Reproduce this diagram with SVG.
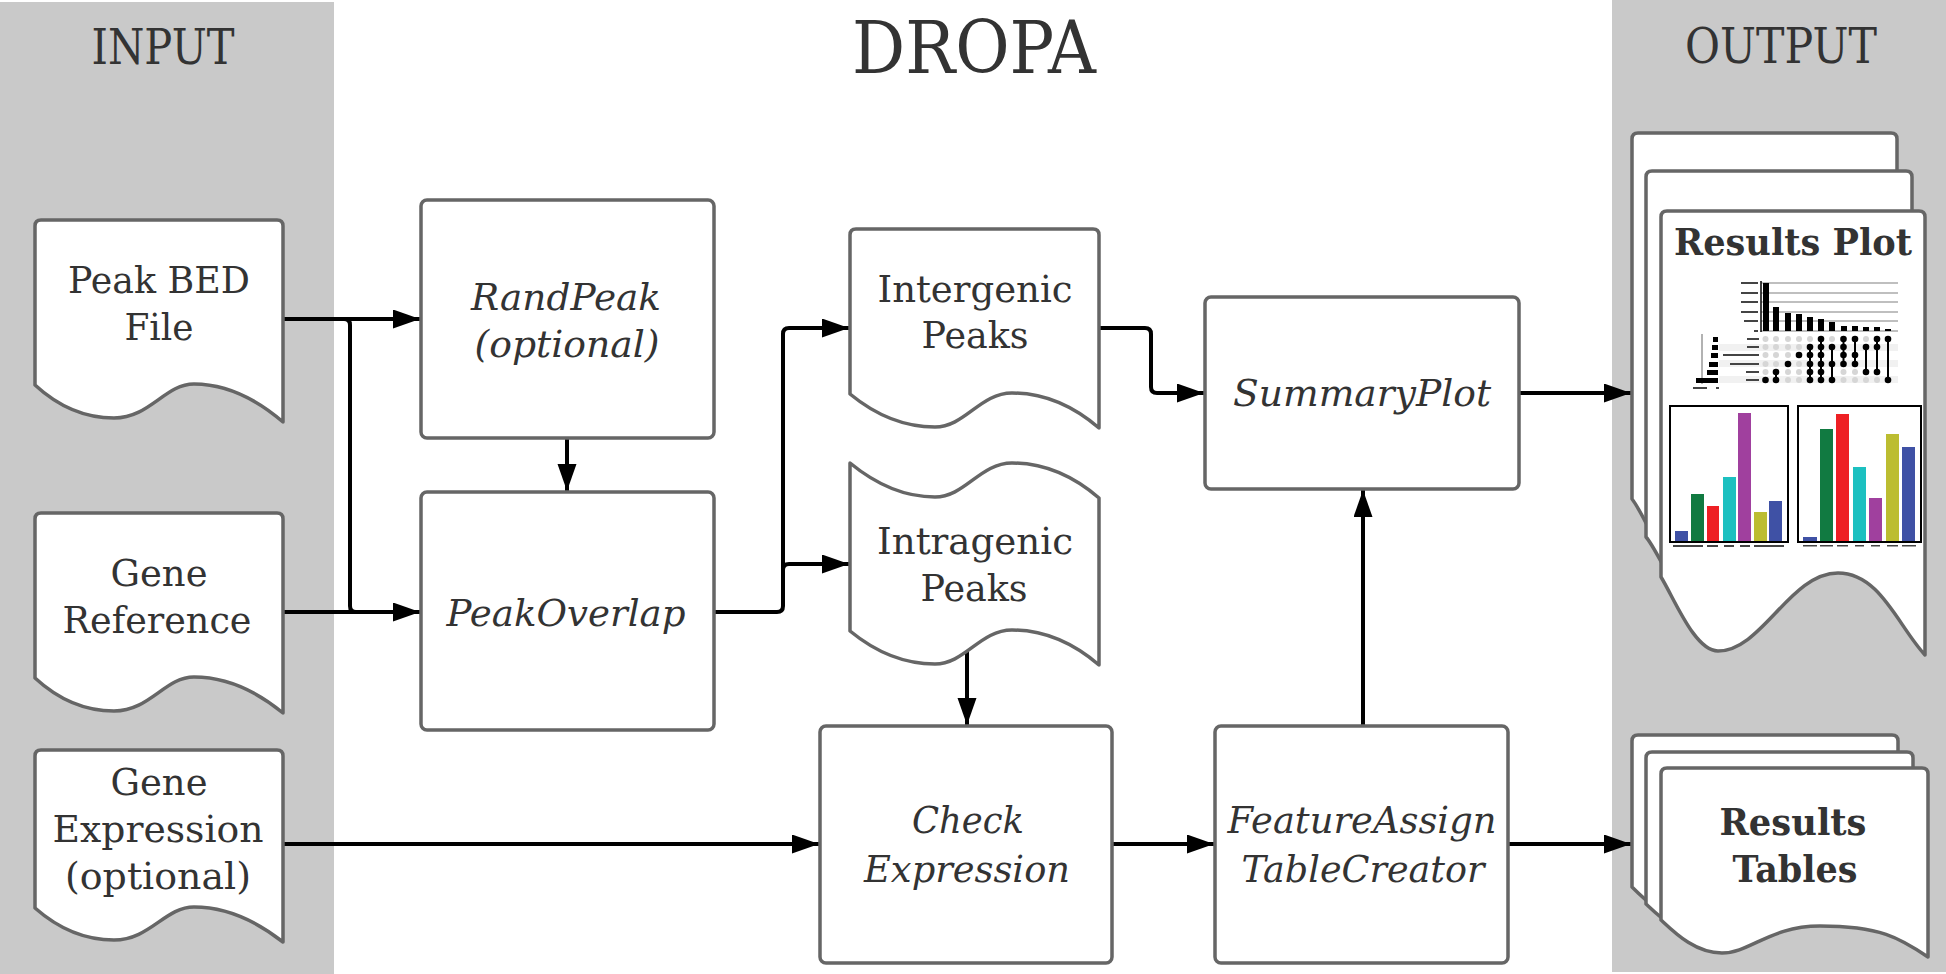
<svg xmlns="http://www.w3.org/2000/svg" width="1946" height="974" viewBox="0 0 1946 974">
<defs>
<marker id="ah" markerUnits="userSpaceOnUse" markerWidth="28" markerHeight="20" refX="27" refY="9.5" orient="auto">
<path d="M0,0 L27,9.5 L0,19 z" fill="#000"/>
</marker>
<style>
.panel{fill:#c9c9c9}
.node{fill:#fff;stroke:#666;stroke-width:3.5;stroke-linejoin:round}
.t{font-family:"DejaVu Serif","Liberation Serif",serif;font-size:37px;fill:#333;text-anchor:middle}
.i{font-style:italic}
.b{font-weight:bold}
.title{font-family:"DejaVu Serif","Liberation Serif",serif;fill:#333;text-anchor:middle}
.c{fill:none;stroke:#000;stroke-width:4;stroke-linejoin:round}
.a{marker-end:url(#ah)}
.grid{stroke:#aaa;stroke-width:1.5}
.ld{fill:#d6d6d6}
.dd{fill:#000}
.lab{fill:#444}
.frame{fill:none;stroke:#000;stroke-width:2}
</style>
</defs>
<rect width="1946" height="974" fill="#fff"/>
<rect class="panel" x="0" y="2" width="334" height="972"/>
<rect class="panel" x="1612" y="0" width="334" height="972"/>
<text class="title" x="163" y="64" font-size="48" textLength="143" lengthAdjust="spacingAndGlyphs">INPUT</text>
<text class="title" x="974" y="73" font-size="72" textLength="244" lengthAdjust="spacingAndGlyphs">DROPA</text>
<text class="title" x="1781" y="63" font-size="48" textLength="192" lengthAdjust="spacingAndGlyphs">OUTPUT</text>

<g id="connectors">
<path class="c a" d="M283,319 L420,319"/>
<path class="c" d="M344,319 Q350,319 350,325 L350,606 Q350,612 356,612"/>
<path class="c a" d="M283,612 L420,612"/>
<path class="c a" d="M283,844 L819,844"/>
<path class="c a" d="M567,438 L567,491"/>
<path class="c a" d="M714,612 L777,612 Q783,612 783,606 L783,334 Q783,328 789,328 L849,328"/>
<path class="c a" d="M783,570 Q783,564 789,564 L849,564"/>
<path class="c a" d="M967,648 L967,725"/>
<path class="c a" d="M1099,328 L1145,328 Q1151,328 1151,334 L1151,387 Q1151,393 1157,393 L1204,393"/>
<path class="c a" d="M1519,393 L1631,393"/>
<path class="c a" d="M1112,844 L1214,844"/>
<path class="c a" d="M1363,726 L1363,490"/>
<path class="c a" d="M1508,844 L1631,844"/>
</g>

<g id="peak-bed">
<path class="node" d="M35,226 Q35,220 41,220 L277,220 Q283,220 283,226 L283,422 C255,398 225,384 194,384 C165,384 150,418 114,418 C85,418 60,408 35,385 Z"/>
<text class="t" x="159" y="293" textLength="182" lengthAdjust="spacingAndGlyphs">Peak BED</text>
<text class="t" x="159" y="340" textLength="69" lengthAdjust="spacingAndGlyphs">File</text>
</g>
<g id="gene-reference">
<path class="node" d="M35,519 Q35,513 41,513 L277,513 Q283,513 283,519 L283,713 C255,690 225,677 194,677 C165,677 150,711 114,711 C85,711 60,701 35,678 Z"/>
<text class="t" x="159" y="586" textLength="97" lengthAdjust="spacingAndGlyphs">Gene</text>
<text class="t" x="157" y="633" textLength="189" lengthAdjust="spacingAndGlyphs">Reference</text>
</g>
<g id="gene-expression">
<path class="node" d="M35,756 Q35,750 41,750 L277,750 Q283,750 283,756 L283,942 C255,920 225,907 194,907 C165,907 150,940 114,940 C85,940 60,930 35,908 Z"/>
<text class="t" x="159" y="795" textLength="97" lengthAdjust="spacingAndGlyphs">Gene</text>
<text class="t" x="158" y="842" textLength="211" lengthAdjust="spacingAndGlyphs">Expression</text>
<text class="t" x="158" y="889" textLength="186" lengthAdjust="spacingAndGlyphs">(optional)</text>
</g>

<g id="randpeak">
<rect class="node" x="421" y="200" width="293" height="238" rx="6"/>
<text class="t i" x="566" y="310" textLength="190" lengthAdjust="spacingAndGlyphs">RandPeak</text>
<text class="t i" x="567" y="357" textLength="185" lengthAdjust="spacingAndGlyphs">(optional)</text>
</g>
<g id="peakoverlap">
<rect class="node" x="421" y="492" width="293" height="238" rx="6"/>
<text class="t i" x="566" y="626" textLength="239" lengthAdjust="spacingAndGlyphs">PeakOverlap</text>
</g>

<g id="intergenic">
<path class="node" d="M850,235 Q850,229 856,229 L1093,229 Q1099,229 1099,235 L1099,428 C1071,404 1041,393 1012,393 C980,393 965,427 935,427 C905,427 878,417 850,394 Z"/>
<text class="t" x="975" y="302" textLength="195" lengthAdjust="spacingAndGlyphs">Intergenic</text>
<text class="t" x="975" y="348" textLength="107" lengthAdjust="spacingAndGlyphs">Peaks</text>
</g>
<g id="intragenic">
<path class="node" d="M850,463 C878,486 905,497 935,497 C965,497 980,463 1012,463 C1041,463 1071,474 1099,498 L1099,665 C1071,641 1041,630 1012,630 C980,630 965,664 935,664 C905,664 878,654 850,631 Z"/>
<text class="t" x="975" y="554" textLength="196" lengthAdjust="spacingAndGlyphs">Intragenic</text>
<text class="t" x="974" y="601" textLength="107" lengthAdjust="spacingAndGlyphs">Peaks</text>
</g>

<g id="summaryplot">
<rect class="node" x="1205" y="297" width="314" height="192" rx="6"/>
<text class="t i" x="1362" y="406" textLength="258" lengthAdjust="spacingAndGlyphs">SummaryPlot</text>
</g>
<g id="check-expression">
<rect class="node" x="820" y="726" width="292" height="237" rx="6"/>
<text class="t i" x="968" y="833" textLength="112" lengthAdjust="spacingAndGlyphs">Check</text>
<text class="t i" x="967" y="882" textLength="206" lengthAdjust="spacingAndGlyphs">Expression</text>
</g>
<g id="featureassign">
<rect class="node" x="1215" y="726" width="293" height="237" rx="6"/>
<text class="t i" x="1362" y="833" textLength="269" lengthAdjust="spacingAndGlyphs">FeatureAssign</text>
<text class="t i" x="1363" y="882" textLength="243" lengthAdjust="spacingAndGlyphs">TableCreator</text>
</g>

<g id="results-plot">
<path class="node" d="M1632,139 Q1632,133 1638,133 L1891,133 Q1897,133 1897,139 L1897,577 C1870,560 1850,495 1805,495 C1760,495 1730,572 1687,572 C1665,572 1645,515 1632,499 Z"/>
<path class="node" d="M1646,177 Q1646,171 1652,171 L1906,171 Q1912,171 1912,177 L1912,615 C1885,598 1865,533 1820,533 C1775,533 1745,610 1702,610 C1680,610 1660,553 1646,537 Z"/>
<path class="node" d="M1661,217 Q1661,211 1667,211 L1919,211 Q1925,211 1925,217 L1925,655 C1898,626 1880,573 1838,573 C1790,573 1762,651 1718,651 C1695,651 1675,600 1661,577 Z"/>
<text class="t b" x="1793" y="255" textLength="238" lengthAdjust="spacingAndGlyphs">Results Plot</text>
<g id="upset">
<g class="grid">
<line x1="1761" y1="283" x2="1898" y2="283"/>
<line x1="1761" y1="293" x2="1898" y2="293"/>
<line x1="1761" y1="302" x2="1898" y2="302"/>
<line x1="1761" y1="312" x2="1898" y2="312"/>
<line x1="1761" y1="321" x2="1898" y2="321"/>
<line x1="1761" y1="331" x2="1898" y2="331"/>
</g>
<line x1="1761" y1="281" x2="1761" y2="332" stroke="#000" stroke-width="1.5"/>
<g class="dd">
<rect x="1763" y="283" width="6" height="48"/>
<rect x="1773" y="307" width="6" height="24"/>
<rect x="1785" y="313" width="6" height="18"/>
<rect x="1796" y="314" width="6" height="17"/>
<rect x="1807" y="317" width="6" height="14"/>
<rect x="1818" y="319" width="6" height="12"/>
<rect x="1829" y="322" width="6" height="9"/>
<rect x="1841" y="326" width="6" height="5"/>
<rect x="1852" y="326" width="6" height="5"/>
<rect x="1863" y="327" width="6" height="4"/>
<rect x="1874" y="327" width="6" height="4"/>
<rect x="1885" y="329" width="6" height="2"/>
</g>
<g fill="#f1f1f1">
<rect x="1719" y="344" width="179" height="7"/>
<rect x="1719" y="360" width="179" height="7"/>
<rect x="1719" y="376" width="179" height="7"/>
</g>
<g class="lab">
<rect x="1741" y="282" width="17" height="2"/>
<rect x="1741" y="292" width="17" height="2"/>
<rect x="1741" y="301" width="17" height="2"/>
<rect x="1741" y="311" width="17" height="2"/>
<rect x="1744" y="320" width="14" height="2"/>
<rect x="1754" y="330" width="4" height="2"/>
<rect x="1747" y="338" width="12" height="2"/>
<rect x="1747" y="346" width="12" height="2"/>
<rect x="1723" y="354" width="36" height="2"/>
<rect x="1730" y="363" width="29" height="2"/>
<rect x="1746" y="371" width="13" height="2"/>
<rect x="1746" y="379" width="13" height="2"/>
<rect x="1693" y="387" width="14" height="2"/>
<rect x="1716" y="387" width="3" height="2"/>
</g>
<line x1="1702" y1="334" x2="1702" y2="384" stroke="#999" stroke-width="1.5"/>
<g class="dd">
<rect x="1713" y="337" width="5" height="5"/>
<rect x="1712" y="345" width="6" height="5"/>
<rect x="1711" y="353" width="7" height="5"/>
<rect x="1709" y="362" width="9" height="5"/>
<rect x="1707" y="370" width="11" height="5"/>
<rect x="1696" y="378" width="22" height="5"/>
</g>
<g class="ld">
<circle cx="1765.5" cy="339" r="3"/><circle cx="1765.5" cy="347" r="3"/><circle cx="1765.5" cy="355" r="3"/><circle cx="1765.5" cy="364" r="3"/><circle cx="1765.5" cy="372" r="3"/>
<circle cx="1776" cy="339" r="3"/><circle cx="1776" cy="347" r="3"/><circle cx="1776" cy="355" r="3"/><circle cx="1776" cy="364" r="3"/>
<circle cx="1788" cy="339" r="3"/><circle cx="1788" cy="347" r="3"/><circle cx="1788" cy="355" r="3"/><circle cx="1788" cy="372" r="3"/><circle cx="1788" cy="380" r="3"/>
<circle cx="1799" cy="339" r="3"/><circle cx="1799" cy="347" r="3"/><circle cx="1799" cy="364" r="3"/><circle cx="1799" cy="372" r="3"/><circle cx="1799" cy="380" r="3"/>
<circle cx="1810" cy="339" r="3"/>
<circle cx="1832" cy="339" r="3"/>
<circle cx="1855" cy="372" r="3"/><circle cx="1855" cy="380" r="3"/>
<circle cx="1866" cy="339" r="3"/><circle cx="1866" cy="380" r="3"/>
<circle cx="1877" cy="380" r="3"/>
<circle cx="1843.5" cy="372" r="3"/><circle cx="1843.5" cy="380" r="3"/>
</g>
<g stroke="#000" stroke-width="2">
<line x1="1776" y1="372" x2="1776" y2="380"/>
<line x1="1810" y1="347" x2="1810" y2="380"/>
<line x1="1821" y1="339" x2="1821" y2="380"/>
<line x1="1832" y1="347" x2="1832" y2="380"/>
<line x1="1843.5" y1="339" x2="1843.5" y2="364"/>
<line x1="1855" y1="339" x2="1855" y2="364"/>
<line x1="1866" y1="347" x2="1866" y2="372"/>
<line x1="1877" y1="339" x2="1877" y2="372"/>
<line x1="1888" y1="339" x2="1888" y2="380"/>
</g>
<g class="dd">
<circle cx="1765.5" cy="380" r="3.3"/>
<circle cx="1776" cy="372" r="3.3"/><circle cx="1776" cy="380" r="3.3"/>
<circle cx="1788" cy="364" r="3.3"/>
<circle cx="1799" cy="355" r="3.3"/>
<circle cx="1810" cy="347" r="3.3"/><circle cx="1810" cy="355" r="3.3"/><circle cx="1810" cy="364" r="3.3"/><circle cx="1810" cy="372" r="3.3"/><circle cx="1810" cy="380" r="3.3"/>
<circle cx="1821" cy="339" r="3.3"/><circle cx="1821" cy="347" r="3.3"/><circle cx="1821" cy="355" r="3.3"/><circle cx="1821" cy="364" r="3.3"/><circle cx="1821" cy="372" r="3.3"/><circle cx="1821" cy="380" r="3.3"/>
<circle cx="1832" cy="347" r="3.3"/><circle cx="1832" cy="364" r="3.3"/><circle cx="1832" cy="380" r="3.3"/>
<circle cx="1843.5" cy="339" r="3.3"/><circle cx="1843.5" cy="347" r="3.3"/><circle cx="1843.5" cy="355" r="3.3"/><circle cx="1843.5" cy="364" r="3.3"/>
<circle cx="1855" cy="339" r="3.3"/><circle cx="1855" cy="355" r="3.3"/><circle cx="1855" cy="364" r="3.3"/>
<circle cx="1866" cy="347" r="3.3"/><circle cx="1866" cy="372" r="3.3"/>
<circle cx="1877" cy="339" r="3.3"/><circle cx="1877" cy="347" r="3.3"/><circle cx="1877" cy="372" r="3.3"/>
<circle cx="1888" cy="339" r="3.3"/><circle cx="1888" cy="380" r="3.3"/>
</g>
</g>
<g id="bars1">
<rect class="frame" x="1670" y="406" width="118" height="136"/>
<rect x="1675" y="531" width="13" height="10" fill="#3f51a5"/>
<rect x="1691" y="494" width="13" height="47" fill="#117a41"/>
<rect x="1707" y="506" width="12" height="35" fill="#ee2024"/>
<rect x="1723" y="477" width="13" height="64" fill="#1cc0c0"/>
<rect x="1738" y="413" width="13" height="128" fill="#a0409e"/>
<rect x="1754" y="512" width="13" height="29" fill="#bcbd31"/>
<rect x="1769" y="501" width="13" height="40" fill="#3f51a5"/>
<g class="lab">
<rect x="1673" y="545" width="30" height="2"/>
<rect x="1707" y="545" width="11" height="2"/>
<rect x="1724" y="545" width="10" height="2"/>
<rect x="1740" y="545" width="10" height="2"/>
<rect x="1754" y="545" width="30" height="2"/>
</g>
</g>
<g id="bars2">
<rect class="frame" x="1798" y="406" width="123" height="136"/>
<rect x="1803" y="537" width="14" height="4" fill="#3f51a5"/>
<rect x="1820" y="429" width="13" height="112" fill="#117a41"/>
<rect x="1836" y="414" width="13" height="127" fill="#ee2024"/>
<rect x="1853" y="467" width="13" height="74" fill="#1cc0c0"/>
<rect x="1869" y="498" width="13" height="43" fill="#a0409e"/>
<rect x="1886" y="434" width="13" height="107" fill="#bcbd31"/>
<rect x="1902" y="447" width="13" height="94" fill="#3f51a5"/>
<g class="lab">
<rect x="1803" y="545" width="14" height="1.5"/>
<rect x="1820" y="545" width="13" height="1.5"/>
<rect x="1837" y="545" width="11" height="1.5"/>
<rect x="1855" y="545" width="9" height="1.5"/>
<rect x="1871" y="545" width="9" height="1.5"/>
<rect x="1887" y="545" width="11" height="1.5"/>
<rect x="1902" y="545" width="14" height="1.5"/>
</g>
</g>
</g>

<g id="results-tables">
<path class="node" d="M1632,741 Q1632,735 1638,735 L1892,735 Q1898,735 1898,741 L1898,924 C1870,905 1850,893 1790,893 C1740,893 1720,920 1692,920 C1665,920 1645,900 1632,887 Z"/>
<path class="node" d="M1646,758 Q1646,752 1652,752 L1907,752 Q1913,752 1913,758 L1913,941 C1885,922 1865,910 1805,910 C1755,910 1735,937 1707,937 C1680,937 1660,917 1646,904 Z"/>
<path class="node" d="M1661,774 Q1661,768 1667,768 L1922,768 Q1928,768 1928,774 L1928,957 C1900,938 1880,926 1820,926 C1770,926 1750,953 1722,953 C1695,953 1675,933 1661,920 Z"/>
<text class="t b" x="1793" y="835" textLength="147" lengthAdjust="spacingAndGlyphs">Results</text>
<text class="t b" x="1795" y="882" textLength="125" lengthAdjust="spacingAndGlyphs">Tables</text>
</g>
</svg>
